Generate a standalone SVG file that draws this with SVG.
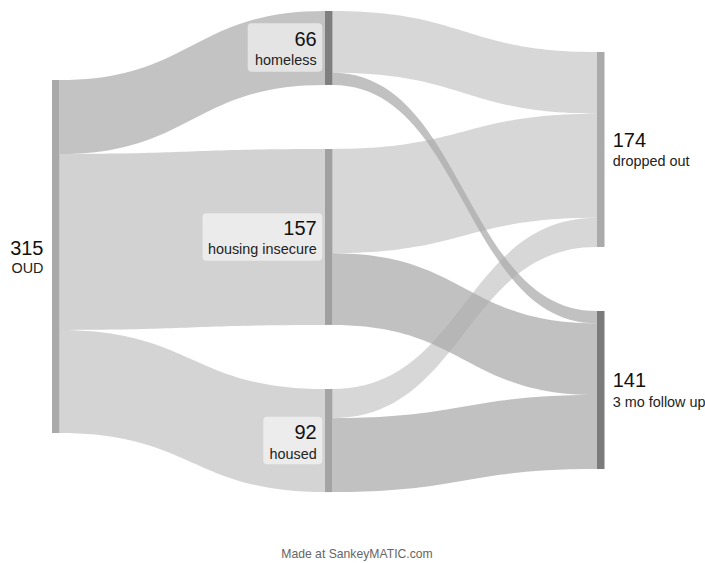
<svg xmlns="http://www.w3.org/2000/svg" width="705" height="563" viewBox="0 0 705 563">
<style>
text{font-family:"Liberation Sans",Helvetica,Arial,sans-serif;}
.num{font-size:20px;fill:#111;}
.nm{font-size:14.4px;fill:#222;}
.end{text-anchor:end;}
.box{fill:#ffffff;fill-opacity:0.55;}
.flow{fill-opacity:0.47;stroke:none;}
.f-homeless{fill:#7f7f7f;}
.f-hi{fill:#a0a0a0;}
.f-housed{fill:#a4a4a4;}
.f-do{fill:#aaaaaa;}
.f-fu{fill:#7b7b7b;}
.foot{font-size:12.2px;fill:#666;text-anchor:middle;}
</style>
<rect width="705" height="563" fill="#ffffff"/>
<g id="connectors">
<path class="flow f-homeless" d="M59.5,80 C192.25,80 192.25,11 325,11 L325,84.96 C192.25,84.96 192.25,153.96 59.5,153.96 Z"/>
<path class="flow f-hi" d="M59.5,153.96 C192.25,153.96 192.25,149 325,149 L325,324.93 C192.25,324.93 192.25,329.89 59.5,329.89 Z"/>
<path class="flow f-housed" d="M59.5,329.89 C192.25,329.89 192.25,389 325,389 L325,492.1 C192.25,492.1 192.25,432.99 59.5,432.99 Z"/>
<path class="flow f-do" d="M332.5,11 C464.75,11 464.75,52 597,52 L597,113.63 C464.75,113.63 464.75,72.63 332.5,72.63 Z"/>
<path class="flow f-fu" d="M332.5,72.63 C464.75,72.63 464.75,311 597,311 L597,323.33 C464.75,323.33 464.75,84.96 332.5,84.96 Z"/>
<path class="flow f-do" d="M332.5,149 C464.75,149 464.75,113.63 597,113.63 L597,217.85 C464.75,217.85 464.75,253.22 332.5,253.22 Z"/>
<path class="flow f-fu" d="M332.5,253.22 C464.75,253.22 464.75,323.33 597,323.33 L597,395.04 C464.75,395.04 464.75,324.93 332.5,324.93 Z"/>
<path class="flow f-do" d="M332.5,389 C464.75,389 464.75,217.85 597,217.85 L597,246.98 C464.75,246.98 464.75,418.14 332.5,418.14 Z"/>
<path class="flow f-fu" d="M332.5,418.14 C464.75,418.14 464.75,395.04 597,395.04 L597,469 C464.75,469 464.75,492.1 332.5,492.1 Z"/>
</g>
<g id="node-oud">
<rect x="52" y="80" width="7.5" height="352.99" fill="#aaaaaa"/>
<text class="num end" x="43.5" y="255">315</text>
<text class="nm end" x="43.5" y="272.7">OUD</text>
</g>
<g id="node-homeless">
<rect x="325" y="11" width="7.5" height="73.96" fill="#7f7f7f"/>
<rect class="box" x="247.7" y="23.3" width="74.6" height="48.4" rx="4"/>
<text class="num end" x="316.7" y="46">66</text>
<text class="nm end" x="316.7" y="65">homeless</text>
</g>
<g id="node-housing-insecure">
<rect x="325" y="149" width="7.5" height="175.93" fill="#a0a0a0"/>
<rect class="box" x="202.5" y="213.3" width="119.8" height="47.5" rx="4"/>
<text class="num end" x="316.7" y="235">157</text>
<text class="nm end" x="316.7" y="254">housing insecure</text>
</g>
<g id="node-housed">
<rect x="325" y="389" width="7.5" height="103.1" fill="#a4a4a4"/>
<rect class="box" x="263.3" y="416.7" width="59" height="47.6" rx="4"/>
<text class="num end" x="316.7" y="439">92</text>
<text class="nm end" x="316.7" y="458.5">housed</text>
</g>
<g id="node-dropped-out">
<rect x="597" y="52" width="7.5" height="194.98" fill="#aaaaaa"/>
<text class="num" x="612.7" y="146.7">174</text>
<text class="nm" x="612.7" y="165.7">dropped out</text>
</g>
<g id="node-follow-up">
<rect x="597" y="311" width="7.5" height="158" fill="#7b7b7b"/>
<text class="num" x="612.7" y="387.3">141</text>
<text class="nm" x="612.7" y="406.7">3 mo follow up</text>
</g>
<text class="foot" x="357" y="557.5">Made at SankeyMATIC.com</text>
</svg>
